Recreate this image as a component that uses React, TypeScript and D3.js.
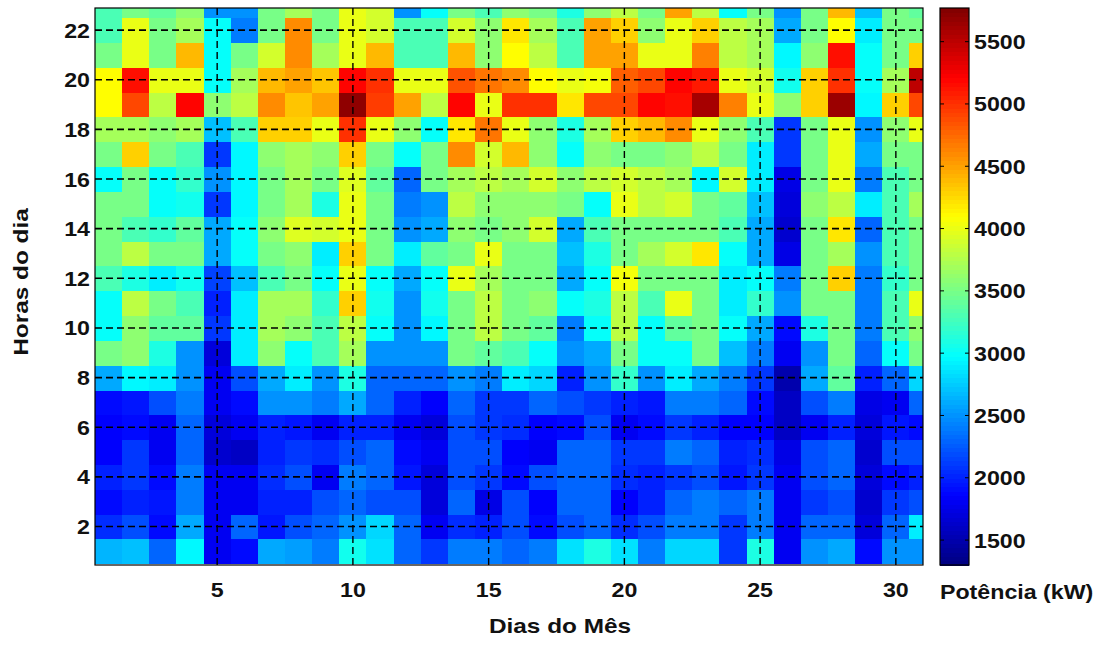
import React from "react";
import * as d3 from "d3";

// potência (kW) por hora, um array por hora do dia, dias 1..31
const h23 = [3300, 3500, 3400, 3600, 2500, 2500, 3500, 3700, 3500, 4000, 3900, 2500, 3000, 3500, 3300, 3600, 3500, 3100, 3600, 3800, 3500, 4500, 3800, 3000, 3500, 2500, 3500, 4400, 2700, 3500, 3400];
const h22 = [3300, 4000, 3500, 3700, 3000, 2400, 3500, 4600, 3500, 4000, 3900, 3300, 3300, 3900, 3600, 4200, 3700, 3300, 4500, 4300, 3600, 4000, 4300, 3800, 3700, 2600, 3500, 4100, 2900, 3500, 3500];
const h21 = [3500, 4000, 3500, 4400, 3000, 3500, 3900, 4600, 3700, 4000, 4400, 3300, 3300, 4400, 3600, 4100, 3800, 3300, 4500, 4500, 4000, 4000, 4650, 3800, 3700, 2950, 3600, 5150, 3000, 3500, 4300];
const h20 = [4100, 5150, 4000, 4000, 3000, 3700, 4400, 4500, 4350, 5200, 5000, 4000, 4000, 4850, 4700, 4600, 4100, 4000, 4050, 4800, 4900, 5200, 5100, 4000, 3900, 3050, 4300, 5000, 3000, 3700, 5500];
const h19 = [4100, 4900, 3800, 5200, 3600, 3800, 4600, 4350, 4500, 5700, 4950, 4500, 3800, 5200, 4000, 5000, 5000, 4200, 4900, 4900, 5200, 5150, 5600, 4650, 4000, 3600, 4300, 5650, 2950, 4300, 4900];
const h18 = [3700, 3700, 3600, 3700, 2700, 3300, 4300, 4300, 4000, 5000, 4000, 3600, 3000, 4200, 4700, 4000, 3600, 3100, 3700, 4300, 4400, 4600, 4000, 3600, 3300, 2100, 3500, 4000, 2500, 3600, 4000];
const h17 = [3500, 4300, 3500, 3300, 2100, 2950, 3600, 3700, 3600, 4300, 3500, 3000, 3500, 4600, 3900, 4400, 3600, 3000, 3600, 3500, 3500, 3600, 3800, 3500, 2900, 2100, 3500, 4000, 2600, 3500, 3500];
const h16 = [3000, 3500, 3000, 3200, 2500, 2950, 3500, 3700, 3500, 3950, 3400, 2300, 3500, 3700, 3800, 3700, 3900, 3600, 3800, 3900, 3800, 3700, 2950, 3900, 2900, 1750, 3500, 4000, 2400, 3300, 3500];
const h15 = [3500, 3500, 3000, 3050, 2100, 2950, 3500, 3700, 3100, 4000, 3500, 2400, 2500, 3800, 3600, 3600, 3600, 3500, 3000, 4000, 3800, 3900, 3500, 3400, 2700, 1700, 3600, 3800, 2900, 3300, 3700];
const h14 = [3500, 3300, 3200, 3400, 2600, 3000, 3600, 3950, 3900, 4000, 3500, 2500, 2600, 3600, 3500, 3600, 3900, 2600, 3300, 3500, 3500, 3500, 3500, 3300, 2600, 1650, 3500, 4200, 2300, 3300, 3500];
const h13 = [3500, 3800, 3500, 3500, 2600, 3000, 3500, 3600, 2900, 4300, 3500, 2900, 3400, 3500, 4000, 3500, 3500, 2700, 3100, 3500, 3700, 3900, 4200, 3000, 2600, 1750, 3500, 3700, 2500, 3300, 3500];
const h12 = [3300, 3100, 2900, 3050, 2150, 2700, 3300, 3500, 3000, 4000, 3000, 2600, 3000, 4000, 3700, 3500, 3500, 2600, 3000, 4050, 3500, 3500, 3500, 2900, 3000, 2400, 3500, 4300, 2400, 3200, 3500];
const h11 = [3000, 3800, 3500, 3300, 2000, 2900, 3700, 3700, 3200, 4300, 3050, 2500, 3050, 3500, 3800, 3500, 3600, 3000, 3100, 3800, 3300, 4000, 3500, 2900, 3200, 2500, 3500, 3500, 2400, 3300, 4000];
const h10 = [3000, 3600, 3400, 3400, 2100, 2900, 3700, 3600, 3300, 3800, 3000, 2500, 2950, 3500, 3800, 3500, 3400, 2400, 3000, 3800, 3000, 3400, 3500, 3000, 2600, 1900, 3100, 3500, 2400, 3300, 3600];
const h9 = [3500, 3600, 3100, 2500, 1700, 2900, 3600, 3000, 3300, 3700, 2500, 2500, 2500, 3500, 3400, 3300, 3000, 2500, 2600, 3500, 3000, 3000, 3500, 2700, 2400, 1800, 2500, 3500, 2300, 3000, 3500];
const h8 = [2600, 2950, 2900, 2500, 1800, 2200, 2600, 2900, 2500, 3100, 2300, 2300, 2300, 2500, 2400, 2900, 2800, 2000, 2500, 3200, 2500, 2900, 2600, 2400, 2100, 1500, 2600, 3400, 2000, 2300, 2800];
const h7 = [1900, 1950, 2200, 2400, 1800, 1900, 2500, 2500, 2400, 2600, 2300, 2000, 1850, 2300, 2100, 2100, 2300, 2200, 2100, 2000, 1950, 2400, 2400, 2300, 1900, 1600, 2200, 2400, 1750, 1800, 2300];
const h6 = [1850, 1900, 1800, 2300, 1700, 1800, 2000, 1950, 1800, 2000, 2000, 1800, 1700, 2200, 2100, 2050, 1850, 1900, 2200, 1800, 1900, 2100, 2000, 1850, 1850, 1600, 1800, 2000, 1700, 1950, 1900];
const h5 = [1850, 2100, 1800, 2300, 1650, 1600, 2000, 2100, 2050, 2200, 2300, 1900, 1800, 2200, 2200, 1850, 1800, 2300, 2300, 2100, 2100, 2400, 2300, 2000, 2050, 1750, 2200, 2300, 1650, 2200, 2200];
const h4 = [2000, 2100, 1900, 2400, 1800, 1800, 2050, 2200, 1800, 2400, 2300, 1950, 1700, 2200, 2100, 1900, 2200, 2300, 2300, 2050, 2000, 2100, 2200, 1950, 2100, 1800, 2200, 2300, 1700, 1900, 2000];
const h3 = [1900, 2000, 1950, 2400, 1800, 1800, 2000, 2000, 2200, 2300, 2200, 2200, 1700, 2300, 1750, 2200, 1850, 2300, 2300, 1850, 2000, 2300, 2400, 2300, 2400, 1800, 2100, 2200, 1650, 2100, 2200];
const h2 = [2050, 2200, 1900, 2600, 1800, 2300, 1950, 2200, 2300, 2500, 2800, 2300, 1800, 2050, 2000, 2200, 1900, 2200, 2300, 2050, 2200, 2400, 2400, 2100, 2400, 1800, 2300, 2300, 1700, 2300, 2900];
const h1 = [2650, 2700, 2300, 2950, 1800, 1900, 2600, 2550, 2400, 3050, 2850, 2300, 2100, 2400, 2400, 2300, 2400, 2850, 3100, 2850, 2400, 2800, 2800, 2100, 3100, 1800, 2500, 2600, 1900, 2500, 2500];

const hourRows = [h1, h2, h3, h4, h5, h6, h7, h8, h9, h10, h11, h12, h13, h14, h15, h16, h17, h18, h19, h20, h21, h22, h23];
const days = d3.range(1, 32);
const dayTicks = [5, 10, 15, 20, 25, 30];
const hourTicks = [2, 4, 6, 8, 10, 12, 14, 16, 18, 20, 22];
const colorTicks = [1500, 2000, 2500, 3000, 3500, 4000, 4500, 5000, 5500];
const colorMin = 1300;
const colorMax = 5770;

const W = 1108;
const H = 649;
const plot = { left: 95, right: 923, top: 8, bottom: 565 };
const bar = { left: 940, right: 969 };
const FONT = "Arial, 'Liberation Sans', sans-serif";
const SX = 1.16; // texto da figura original é um pouco mais largo

const clamp = (v: number) => Math.max(0, Math.min(1, v));
const jet = (t: number) => {
  const r = clamp(1.5 - Math.abs(4 * t - 3));
  const g = clamp(1.5 - Math.abs(4 * t - 2));
  const b = clamp(1.5 - Math.abs(4 * t - 1));
  return d3.rgb(r * 255, g * 255, b * 255).formatHex();
};

const x = d3.scaleLinear().domain([0.5, 31]).range([plot.left, plot.right]);
const y = d3.scaleLinear().domain([0.45, 22.89]).range([plot.bottom, plot.top]);
const c = d3.scaleLinear().domain([colorMin, colorMax]).range([0, 1]).clamp(true);
const cy = d3.scaleLinear().domain([colorMin, colorMax]).range([plot.bottom, plot.top]);

const Label = ({ tx, ty, anchor, children, rotate = 0, size = 20 }: any) => (
  <text
    transform={`translate(${tx},${ty}) rotate(${rotate}) scale(${SX},1)`}
    textAnchor={anchor}
    fontFamily={FONT}
    fontWeight="bold"
    fontSize={size}
    fill="#111"
  >
    {children}
  </text>
);

const App = () => {
  const cells: any[] = [];
  hourRows.forEach((row, i) => {
    const hour = i + 1;
    row.forEach((v, j) => {
      const day = days[j];
      const x0 = x(day - 0.5);
      const x1 = x(day + 0.5);
      const y0 = y(hour + 0.5);
      const y1 = y(hour - 0.5);
      cells.push(
        <rect
          key={`${hour}-${day}`}
          x={x0}
          y={y0}
          width={x1 - x0 + 0.5}
          height={y1 - y0 + 0.5}
          fill={jet(c(v))}
        />
      );
    });
  });

  const steps = d3.range(0, 128);
  const stepH = (plot.bottom - plot.top) / steps.length;

  return (
    <svg width={W} height={H} style={{ position: "absolute", left: 0, top: 0, background: "#fff" }}>
      <defs>
        <clipPath id="plotClip">
          <rect x={plot.left} y={plot.top} width={plot.right - plot.left} height={plot.bottom - plot.top} />
        </clipPath>
      </defs>
      <g clipPath="url(#plotClip)" shapeRendering="crispEdges">{cells}</g>

      {/* grade tracejada */}
      <g stroke="#000" strokeDasharray="7,4" fill="none">
        {dayTicks.map(d => (
          <line key={d} x1={x(d)} x2={x(d)} y1={plot.top} y2={plot.bottom} strokeWidth={1.4} />
        ))}
        {hourTicks.map(h => (
          <line key={h} x1={plot.left} x2={plot.right} y1={y(h)} y2={y(h)} strokeWidth={1.6} />
        ))}
      </g>
      <rect
        x={plot.left}
        y={plot.top}
        width={plot.right - plot.left}
        height={plot.bottom - plot.top}
        fill="none"
        stroke="#000"
        strokeWidth={1.2}
      />

      {dayTicks.map(d => (
        <Label key={d} tx={x(d)} ty={597} anchor="middle">{d}</Label>
      ))}
      {hourTicks.map(h => (
        <Label key={h} tx={90} ty={y(h) + 7.5} anchor="end">{h}</Label>
      ))}
      <Label tx={560} ty={633} anchor="middle" size={21}>Dias do Mês</Label>
      <Label tx={28} ty={282} anchor="middle" rotate={-90} size={21}>Horas do dia</Label>

      {/* barra de cores */}
      <g shapeRendering="crispEdges">
        {steps.map(s => (
          <rect
            key={s}
            x={bar.left}
            y={plot.bottom - (s + 1) * stepH}
            width={bar.right - bar.left}
            height={stepH + 0.6}
            fill={jet((s + 0.5) / steps.length)}
          />
        ))}
      </g>
      <rect
        x={bar.left}
        y={plot.top}
        width={bar.right - bar.left}
        height={plot.bottom - plot.top}
        fill="none"
        stroke="#000"
        strokeWidth={1.2}
      />
      {colorTicks.map(t => (
        <g key={t}>
          <line x1={bar.left} x2={bar.left + 4} y1={cy(t)} y2={cy(t)} stroke="#000" />
          <line x1={bar.right - 4} x2={bar.right} y1={cy(t)} y2={cy(t)} stroke="#000" />
          <Label tx={974} ty={cy(t) + 7.5} anchor="start">{t}</Label>
        </g>
      ))}
      <Label tx={940} ty={599} anchor="start" size={20}>Potência (kW)</Label>
    </svg>
  );
};

export default App;
